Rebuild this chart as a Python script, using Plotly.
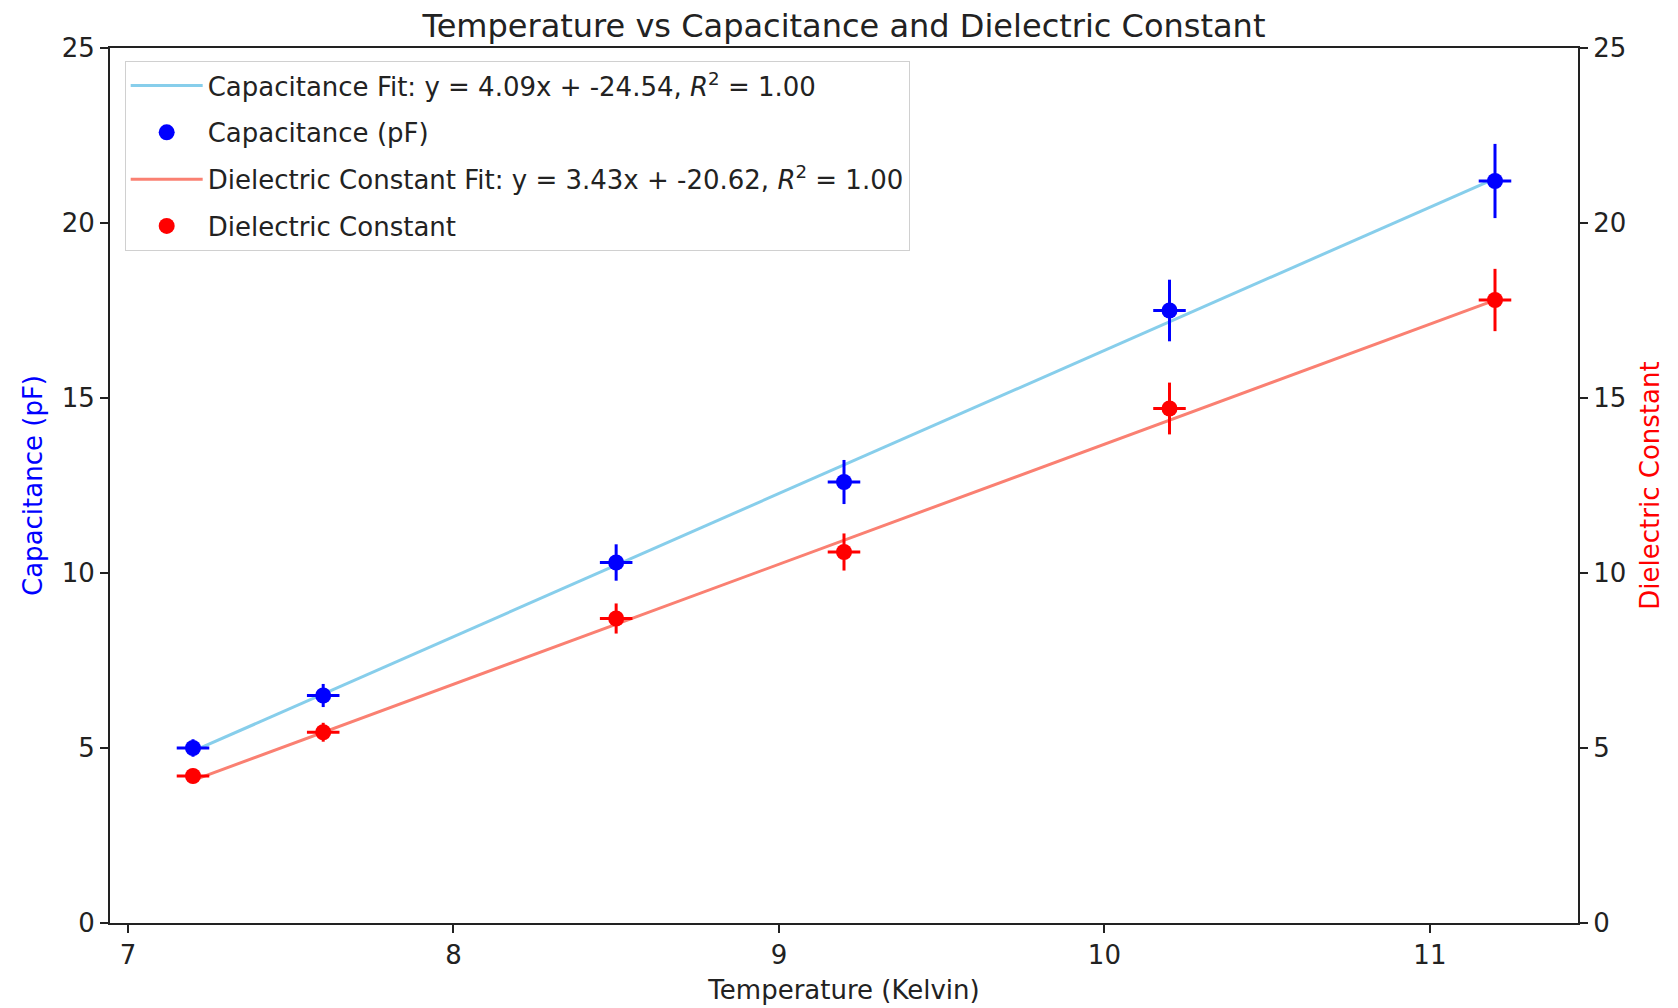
import plotly.graph_objects as go

# ---- data ----
temperature = [7.2, 7.6, 8.5, 9.2, 10.2, 11.2]
temp_err = [0.05, 0.05, 0.05, 0.05, 0.05, 0.05]
capacitance = [5.0, 6.5, 10.3, 12.6, 17.5, 21.2]
capacitance_err = [0.25, 0.33, 0.52, 0.63, 0.88, 1.06]
dielectric = [4.2, 5.45, 8.7, 10.6, 14.7, 17.8]
dielectric_err = [0.21, 0.27, 0.43, 0.53, 0.74, 0.89]
cap_fit = (4.09, -24.54)
diel_fit = (3.43, -20.62)
y_ticks = [0, 5, 10, 15, 20, 25]
x_ticks = [7, 8, 9, 10, 11]

FONT = "DejaVu Sans"
FS = 26

fit_x = [temperature[0], temperature[-1]]
cap_fit_y = [cap_fit[0] * x + cap_fit[1] for x in fit_x]
diel_fit_y = [diel_fit[0] * x + diel_fit[1] for x in fit_x]

fig = go.Figure()

fig.add_trace(go.Scatter(
    x=fit_x, y=cap_fit_y, mode="lines",
    line=dict(color="#87CEEB", width=3),
    name=f"Capacitance Fit: y = {cap_fit[0]:.2f}x + {cap_fit[1]:.2f}, <i>R</i><sup>2</sup> = 1.00",
    legendgroup="a", yaxis="y"))
fig.add_trace(go.Scatter(
    x=temperature, y=capacitance, mode="markers",
    marker=dict(color="blue", size=16),
    error_y=dict(type="data", array=capacitance_err, color="blue", thickness=3, width=0),
    error_x=dict(type="data", array=temp_err, color="blue", thickness=3, width=0),
    name="Capacitance (pF)", legendgroup="b", yaxis="y"))
fig.add_trace(go.Scatter(
    x=fit_x, y=diel_fit_y, mode="lines",
    line=dict(color="#FA8072", width=3),
    name=f"Dielectric Constant Fit: y = {diel_fit[0]:.2f}x + {diel_fit[1]:.2f}, <i>R</i><sup>2</sup> = 1.00",
    legendgroup="c", yaxis="y2"))
fig.add_trace(go.Scatter(
    x=temperature, y=dielectric, mode="markers",
    marker=dict(color="red", size=16),
    error_y=dict(type="data", array=dielectric_err, color="red", thickness=3, width=0),
    error_x=dict(type="data", array=temp_err, color="red", thickness=3, width=0),
    name="Dielectric Constant", legendgroup="d", yaxis="y2"))

axis_common = dict(
    showline=True, linecolor="#222", linewidth=2,
    ticks="outside", ticklen=8, tickwidth=2, tickcolor="#222",
    showgrid=False, zeroline=False,
    tickfont=dict(family=FONT, size=FS, color="#222"),
)

fig.update_layout(
    width=1678, height=1008,
    paper_bgcolor="white", plot_bgcolor="white",
    margin=dict(l=102, r=108, t=40, b=93),
    font=dict(family=FONT, size=FS, color="#222"),
    title=dict(text="Temperature vs Capacitance and Dielectric Constant",
               x=0.5, xref="paper", xanchor="center",
               y=0.982, yref="container", yanchor="middle",
               font=dict(family=FONT, size=32, color="#222")),
    xaxis=dict(range=[6.945, 11.455], tickvals=x_ticks, mirror=True,
               title=dict(text="Temperature (Kelvin)", standoff=12,
                          font=dict(family=FONT, size=FS, color="#222")),
               **axis_common),
    yaxis=dict(range=[0, 25], tickvals=y_ticks,
               title=dict(text="Capacitance (pF)", standoff=12,
                          font=dict(family=FONT, size=FS, color="blue")),
               **axis_common),
    yaxis2=dict(range=[0, 25], tickvals=y_ticks, overlaying="y", side="right",
                title=dict(text="Dielectric Constant", standoff=16,
                           font=dict(family=FONT, size=FS, color="red")),
                **axis_common),
    legend=dict(x=0.01, y=0.985, xanchor="left", yanchor="top",
                bgcolor="white", bordercolor="#d0d0d0", borderwidth=1,
                font=dict(family=FONT, size=FS, color="#222"),
                itemwidth=72,
                traceorder="grouped", tracegroupgap=10),
    showlegend=True,
)

fig.write_html("out.html")
